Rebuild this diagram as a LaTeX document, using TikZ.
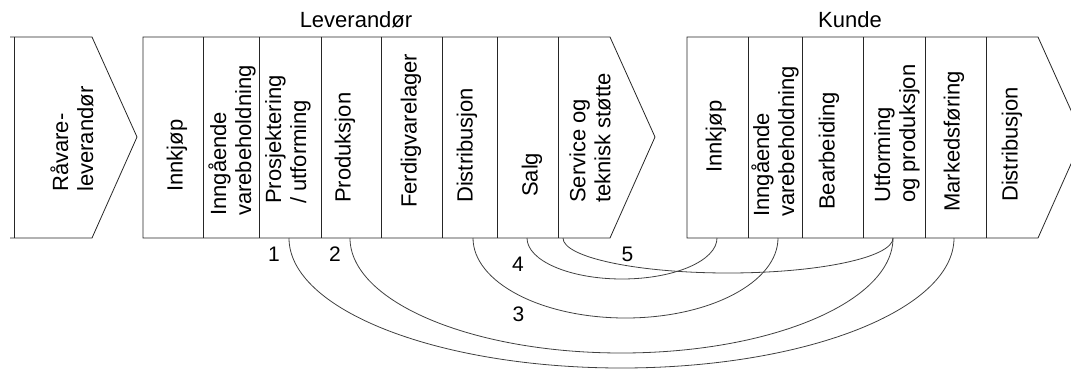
\documentclass[tikz,border=0pt]{standalone}
\usepackage{fontspec}
\setmainfont{Liberation Sans}
\usetikzlibrary{calc}
\begin{document}
\begin{tikzpicture}[x=1pt,y=1pt,
  box/.style={draw=black!85, line width=0.8pt, line join=miter},
  lbl/.style={rotate=90, anchor=west, inner sep=0pt, align=left, font=\fontsize{22}{25}\selectfont},
  ttl/.style={anchor=base, inner sep=0pt, font=\fontsize{22}{25}\selectfont},
  num/.style={inner sep=0pt, font=\fontsize{21}{24}\selectfont},
  link/.style={draw=black!75, line width=0.8pt}]
\useasboundingbox (0,0) rectangle (1071,-369);

% Raavare chevron
\draw[box] (10,-37) -- (92,-37) -- (137,-137) -- (92,-238) -- (10,-238);
\draw[box] (14,-37) -- (14,-238);

% Leverandor chevron
\draw[box] (143,-37) -- (610,-37) -- (655,-137) -- (610,-238) -- (143,-238) -- cycle;
\foreach \x in {203,259,321,381,442,497,558} \draw[box] (\x,-37) -- (\x,-238);

% Kunde chevron
\draw[box] (687,-37) -- (1038,-37) -- (1083,-137) -- (1038,-238) -- (687,-238) -- cycle;
\foreach \x in {748,802,863,925,986} \draw[box] (\x,-37) -- (\x,-238);

% titles
\node[ttl] (tlev) at (356,-28) {Leverandør};
\node[ttl] (tkun) at (850,-28) {Kunde};

% labels
\node[lbl] (raa) at (72,-192) {Råvare-\\leverandør};
\node[lbl] (l1) at (177,-192) {Innkjøp};
\node[lbl] (l2) at (232,-216) {Inngående\\varebeholdning};
\node[lbl] (l3) at (288,-204) {Prosjektering\\/ utforming};
\node[lbl] (l4) at (345,-203) {Produksjon};
\node[lbl] (l5) at (411,-208) {Ferdigvarelager};
\node[lbl] (l6) at (467,-203) {Distribusjon};
\node[lbl] (l7) at (532,-197) {Salg};
\node[lbl] (l8) at (590,-203) {Service og\\teknisk støtte};
\node[lbl] (k1) at (716,-173) {Innkjøp};
\node[lbl] (k2) at (775,-217) {Inngående\\varebeholdning};
\node[lbl] (k3) at (829,-210) {Bearbeiding};
\node[lbl] (k4) at (897,-203) {Utforming\\og produksjon};
\node[lbl] (k5) at (954,-212) {Markedsføring};
\node[lbl] (k6) at (1012,-202) {Distribusjon};

% arc end points
\coordinate (a1s) at (289,-238); \coordinate (a1e) at (954,-238);
\coordinate (a2s) at (350,-238); \coordinate (a2e) at (893,-238);
\coordinate (a3s) at (473,-238); \coordinate (a3e) at (778,-238);
\coordinate (a4s) at (527,-238); \coordinate (a4e) at (717,-238);
\coordinate (a5s) at (563,-238); \coordinate (a5e) at (893,-238);

\draw[link] let \p1=(a1s), \p2=(a1e) in (a1s) arc[start angle=180, end angle=360, x radius={(\x2-\x1)/2}, y radius=130pt];
\draw[link] let \p1=(a2s), \p2=(a2e) in (a2s) arc[start angle=180, end angle=360, x radius={(\x2-\x1)/2}, y radius=115pt];
\draw[link] let \p1=(a3s), \p2=(a3e) in (a3s) arc[start angle=180, end angle=360, x radius={(\x2-\x1)/2}, y radius=80pt];
\draw[link] let \p1=(a4s), \p2=(a4e) in (a4s) arc[start angle=180, end angle=360, x radius={(\x2-\x1)/2}, y radius=41pt];
\draw[link] let \p1=(a5s), \p2=(a5e) in (a5s) arc[start angle=180, end angle=360, x radius={(\x2-\x1)/2}, y radius=35pt];

% numbers
\node[num] (n1) at (274,-254.5) {1};
\node[num] (n2) at (335,-254.5) {2};
\node[num] (n3) at (518.5,-314.5) {3};
\node[num] (n4) at (518,-264.5) {4};
\node[num] (n5) at (627.5,-254.5) {5};
\end{tikzpicture}
\end{document}
